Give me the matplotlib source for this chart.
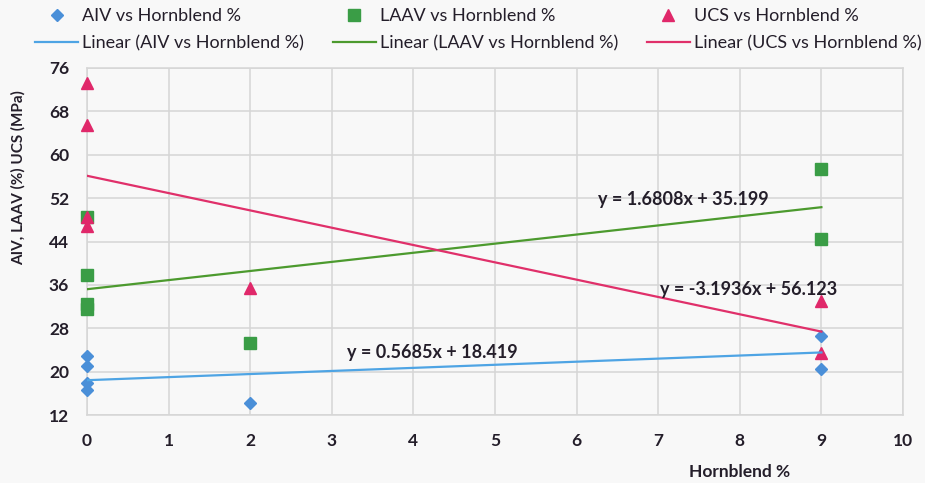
import matplotlib.pyplot as plt
import numpy as np

# Hornblend % for each sample (same x for all three tests)
hornblend = [0, 0, 0, 0, 2, 9, 9]
aiv = [22.8, 21.0, 17.9, 16.6, 14.2, 26.5, 20.5]
laav = [48.6, 37.9, 32.4, 31.5, 25.2, 57.3, 44.5]
ucs = [73.2, 65.5, 48.6, 46.8, 35.5, 33.0, 23.5]

# linear trendline coefficients (slope, intercept)
fit_aiv = (0.5685, 18.419)
fit_laav = (1.6808, 35.199)
fit_ucs = (-3.1936, 56.123)

x_ticks = list(range(0, 11))
y_ticks = list(range(12, 77, 8))

c_aiv_pt, c_aiv_ln = '#4a8fd8', '#4ea4e4'
c_laav_pt, c_laav_ln = '#3a9d46', '#4c9a2e'
c_ucs_pt, c_ucs_ln = '#e0286a', '#e0306a'
txt = '#241e2a'
grid_c = '#d6d6d6'

plt.rcParams['font.family'] = ['Lato', 'DejaVu Sans']

fig = plt.figure(figsize=(9.25, 4.83), dpi=100)
fig.patch.set_facecolor('#f8f8f8')
ax = fig.add_axes([87/925, 1-415/483, 816/925, 347/483])
ax.set_facecolor('#f8f8f8')

p1, = ax.plot(hornblend, aiv, 'D', ms=6.5, color=c_aiv_pt, zorder=3, clip_on=False)
p2, = ax.plot(hornblend, laav, 's', ms=8.5, color=c_laav_pt, zorder=3, clip_on=False)
p3, = ax.plot(hornblend, ucs, '^', ms=9, color=c_ucs_pt, zorder=3, clip_on=False)

xs = np.array([min(hornblend), max(hornblend)])
l1, = ax.plot(xs, fit_aiv[0]*xs + fit_aiv[1], color=c_aiv_ln, lw=1.6, zorder=4)
l2, = ax.plot(xs, fit_laav[0]*xs + fit_laav[1], color=c_laav_ln, lw=1.6, zorder=4)
l3, = ax.plot(xs, fit_ucs[0]*xs + fit_ucs[1], color=c_ucs_ln, lw=1.6, zorder=4)

eq_kw = dict(fontsize=13, fontweight='bold', color=txt, ha='left', va='center', zorder=5)
ax.text(3.19, 23.6, 'y = %.4fx + %.3f' % fit_aiv, **eq_kw)
ax.text(6.26, 51.7, 'y = %.4fx + %.3f' % fit_laav, **eq_kw)
ax.text(7.02, 35.1, 'y = %.4fx + %.3f' % fit_ucs, **eq_kw)

ax.set_xlim(0, 10)
ax.set_ylim(12, 76)
ax.set_xticks(x_ticks)
ax.set_yticks(y_ticks)
ax.grid(True, color=grid_c, lw=1.1, zorder=0)
for s in ax.spines.values():
    s.set_color(grid_c)
    s.set_linewidth(1.1)
ax.tick_params(length=0, labelsize=12.5, labelcolor=txt, pad=13)
for lab in ax.get_xticklabels() + ax.get_yticklabels():
    lab.set_fontweight('bold')

ax.set_xlabel('Hornblend %', fontsize=12.5, fontweight='bold', color=txt)
ax.xaxis.set_label_coords(0.80, -0.141)
ax.set_ylabel('AIV, LAAV (%) UCS (MPa)', fontsize=11, fontweight='bold', color=txt)
ax.yaxis.set_label_coords(-0.075, 0.685)

handles = [p1, l1, p2, l2, p3, l3]
labels = ['AIV vs Hornblend %', 'Linear (AIV vs Hornblend %)',
          'LAAV vs Hornblend %', 'Linear (LAAV vs Hornblend %)',
          'UCS vs Hornblend %', 'Linear (UCS vs Hornblend %)']
leg = fig.legend(handles, labels, ncol=3, loc='upper left',
                 bbox_to_anchor=(35/925, 1-8/483), frameon=False,
                 fontsize=13, handlelength=2.4, handletextpad=0.2,
                 columnspacing=1.6, labelspacing=0.6, borderpad=0,
                 borderaxespad=0)
for t in leg.get_texts():
    t.set_color(txt)

fig.savefig('out.png', dpi=100, facecolor=fig.get_facecolor())
